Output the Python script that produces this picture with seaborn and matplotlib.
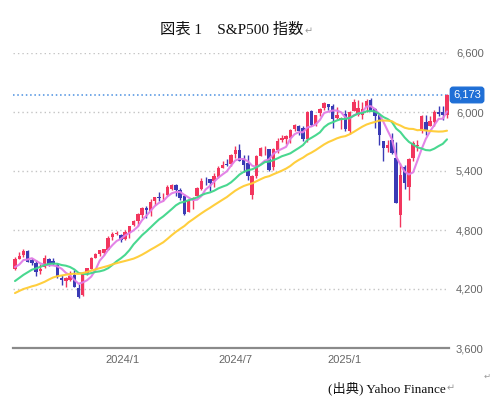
import numpy as np
import pandas as pd
import matplotlib
matplotlib.use("Agg")
import matplotlib.pyplot as plt
import seaborn as sns

# ---- data: weekly S&P 500 candles (week of 2023-07-10 .. week of 2025-06-23) ----
opens = [4398.4, 4505.3, 4543.4, 4584.8, 4491.6, 4464.8, 4380.3, 4426.0, 4510.1, 4480.0,
         4445.4, 4310.6, 4284.5, 4289.0, 4342.4, 4210.4, 4139.4, 4364.3, 4406.7, 4511.7,
         4554.9, 4564.4, 4593.4, 4725.6, 4758.9, 4745.2, 4703.7, 4772.4, 4853.4, 4892.0,
         4957.2, 5026.8, 4989.3, 5093.0, 5130.9, 5111.9, 5154.8, 5219.5, 5258.0, 5211.4,
         5149.7, 4987.3, 5114.1, 5142.4, 5221.1, 5305.4, 5315.9, 5297.2, 5341.2, 5431.1,
         5460.7, 5471.1, 5572.8, 5614.1, 5528.0, 5476.6, 5151.1, 5350.4, 5557.2, 5639.7,
         5623.9, 5442.1, 5615.2, 5711.9, 5726.5, 5737.8, 5829.8, 5857.8, 5833.9, 5725.2,
         6008.9, 5878.5, 5992.3, 6040.1, 6083.0, 6063.8, 5940.3, 5920.7, 5982.8, 5804.1,
         6014.1, 5969.0, 5969.6, 6046.4, 6121.6, 6026.7, 5968.3, 5705.4, 5635.6, 5718.1,
         5527.9, 4953.8, 5442.0, 5232.9, 5529.2, 5655.3, 5807.1, 5902.9, 5854.1, 5896.7,
         6004.6, 6004.0, 5969.7]
highs = [4527.6, 4578.4, 4607.1, 4594.2, 4519.8, 4490.3, 4458.3, 4541.3, 4514.3, 4511.0,
         4466.4, 4338.5, 4317.3, 4385.5, 4393.6, 4255.8, 4374.0, 4418.0, 4520.7, 4568.4,
         4598.5, 4609.2, 4738.6, 4778.0, 4793.3, 4754.3, 4802.4, 4842.1, 4906.7, 4975.3,
         5030.1, 5048.4, 5111.1, 5140.3, 5189.3, 5179.1, 5261.1, 5264.9, 5263.0, 5222.2,
         5168.4, 5114.6, 5139.1, 5239.7, 5325.5, 5341.9, 5315.9, 5375.1, 5447.3, 5505.5,
         5523.6, 5570.3, 5655.6, 5669.7, 5566.2, 5566.2, 5358.4, 5561.0, 5643.2, 5651.6,
         5623.9, 5636.3, 5733.6, 5767.4, 5767.4, 5822.1, 5878.5, 5866.9, 5860.9, 6012.5,
         6017.3, 5972.9, 6044.2, 6100.0, 6085.2, 6085.2, 6049.8, 5949.3, 6021.0, 6015.0,
         6128.2, 6120.9, 6101.3, 6127.5, 6147.4, 6043.7, 5986.1, 5705.4, 5715.3, 5787.0,
         5695.3, 5481.3, 5459.5, 5528.1, 5700.7, 5720.1, 5969.9, 5968.6, 5961.8, 6016.9,
         6059.4, 6059.4, 6187.7]
lows = [4389.9, 4503.1, 4528.6, 4474.6, 4448.0, 4335.3, 4356.3, 4414.9, 4430.0, 4448.0,
        4316.5, 4238.6, 4216.5, 4283.8, 4223.0, 4103.8, 4126.0, 4344.0, 4401.4, 4510.4,
        4537.2, 4546.5, 4593.4, 4698.8, 4751.0, 4682.1, 4699.8, 4714.8, 4844.0, 4845.2,
        4918.1, 4920.3, 4946.0, 5056.8, 5091.9, 5091.0, 5145.0, 5203.4, 5146.1, 5107.9,
        4953.6, 4987.3, 5011.1, 5142.4, 5209.7, 5256.9, 5191.7, 5234.3, 5327.8, 5428.0,
        5447.6, 5448.4, 5528.6, 5497.0, 5390.9, 5305.1, 5119.3, 5330.6, 5550.7, 5560.9,
        5402.6, 5406.9, 5585.9, 5690.5, 5674.0, 5681.1, 5810.7, 5762.4, 5702.6, 5696.5,
        5853.0, 5853.0, 5963.9, 6024.1, 6024.9, 5832.3, 5932.9, 5829.5, 5809.7, 5773.3,
        6014.1, 5962.9, 5923.9, 6003.0, 6008.6, 5837.7, 5666.3, 5504.7, 5597.8, 5572.3,
        5069.9, 4835.0, 5220.8, 5101.6, 5505.7, 5598.4, 5786.1, 5767.4, 5854.1, 5861.4,
        5963.2, 5921.0, 5943.2]
closes = [4505.42, 4536.34, 4582.23, 4478.03, 4464.05, 4369.71, 4405.71, 4515.77, 4457.49, 4450.32,
          4320.06, 4288.05, 4308.50, 4327.78, 4224.16, 4117.37, 4358.34, 4415.24, 4514.02, 4559.34,
          4594.63, 4604.37, 4719.19, 4754.63, 4769.83, 4697.24, 4783.83, 4839.81, 4890.97, 4958.61,
          5026.61, 5005.57, 5088.80, 5137.08, 5123.69, 5117.09, 5234.18, 5254.35, 5204.34, 5123.41,
          4967.23, 5099.96, 5127.79, 5222.68, 5303.27, 5304.72, 5277.51, 5346.99, 5431.60, 5464.62,
          5460.48, 5567.19, 5615.35, 5505.00, 5459.10, 5346.56, 5344.16, 5554.25, 5634.61, 5648.40,
          5408.42, 5626.02, 5702.55, 5738.17, 5751.07, 5815.03, 5864.67, 5808.12, 5728.80, 5995.54,
          5870.62, 5969.34, 6032.38, 6090.27, 6051.09, 5930.85, 5970.84, 5942.47, 5827.04, 5996.66,
          6101.24, 6040.53, 6025.99, 6114.63, 6013.13, 5954.50, 5770.20, 5638.94, 5667.56, 5580.94,
          5074.08, 5363.36, 5282.70, 5525.21, 5686.67, 5659.91, 5958.38, 5802.82, 5911.69, 6000.36,
          5976.97, 5967.84, 6173.07]
# weekly closes before the visible window (needed for the moving averages)
prior_closes = [3972.61, 4070.56, 4136.48, 4090.46, 4079.09, 3970.04, 4045.64, 3861.59, 3916.64,
                3970.99, 4109.31, 4105.02, 4137.64, 4133.52, 4169.48, 4136.25, 4124.08, 4191.98,
                4205.45, 4282.37, 4298.86, 4409.59, 4348.33, 4450.38, 4398.95]
ma_windows = [5, 13, 26]
ma_colors = ["#e27de6", "#3fd68a", "#ffcc33"]

y_ticks = [3600, 4200, 4800, 5400, 6000, 6600]
y_tick_labels = ["3,600", "4,200", "4,800", "5,400", "6,000", "6,600"]
x_tick_weeks = [25.4, 52.1, 77.9]
x_tick_labels = ["2024/1", "2024/7", "2025/1"]
last_label = "6,173"

title = "図表 1　S&P500 指数"
source = "(出典) Yahoo Finance"

# ---- style ----
sns.set_theme(style="white")
plt.rcParams["font.family"] = ["Liberation Sans Narrow", "Liberation Sans", "DejaVu Sans"]
serif_cjk = ["Liberation Serif", "Noto Sans CJK JP", "DejaVu Sans"]

UP = "#f2365e"
DOWN = "#3a3ab5"

fig = plt.figure(figsize=(4.91, 4.13), dpi=100)
ax = fig.add_axes([13 / 491, 1 - 348 / 413, (449 - 13) / 491, (348 - 53) / 413])

o = np.array(opens); h = np.array(highs); l = np.array(lows); c = np.array(closes)
x = np.arange(len(c))
cols = np.where(c >= o, UP, DOWN)

# grid lines (dotted)
for yt in y_ticks[1:]:
    ax.axhline(yt, color="#c4c4c4", linestyle=(0, (1, 2.2)), linewidth=1.0, zorder=0)

# candles
ax.vlines(x, l, h, colors=cols, linewidth=1.0, zorder=2)
body_bottom = np.minimum(o, c)
body_height = np.maximum(np.abs(c - o), 7)
ax.bar(x, body_height, bottom=body_bottom, width=0.8, color=cols, linewidth=0, zorder=2)

# moving averages
full = pd.Series(prior_closes + closes)
n_prior = len(prior_closes)
for w, colr in zip(ma_windows, ma_colors):
    ma = full.rolling(w).mean().iloc[n_prior:].to_numpy()
    sns.lineplot(x=x, y=ma, color=colr, linewidth=1.5, ax=ax, zorder=3, alpha=0.95)

# last price line
ax.axhline(closes[-1], color="#4a8fe0", linestyle=(0, (1, 1.8)), linewidth=1.1, zorder=1)

ax.set_xlim(-0.47, len(c) - 0.53)
ax.set_ylim(3600, 6600)
for s in ["top", "left", "right"]:
    ax.spines[s].set_visible(False)
ax.spines["bottom"].set_color("#8a8a8a")
ax.spines["bottom"].set_linewidth(1.6)

ax.yaxis.tick_right()
ax.set_yticks(y_ticks)
ax.set_yticklabels(y_tick_labels, fontsize=8, color="#666666")
ax.tick_params(axis="y", length=0, pad=5)
ax.set_xticks(x_tick_weeks)
ax.set_xticklabels(x_tick_labels, fontsize=8, color="#666666")
ax.tick_params(axis="x", length=0, pad=5)
ax.set_xlabel("")
ax.set_ylabel("")

# last value badge
ax.annotate(last_label, xy=(1.0, closes[-1]), xycoords=("axes fraction", "data"),
            xytext=(13, 0), textcoords="offset points", ha="center", va="center",
            fontsize=8, color="white",
            bbox=dict(boxstyle="round,pad=0.25", fc="#1f6fd6", ec="#1f6fd6"),
            annotation_clip=False)

# title and source text
t = fig.text(232 / 491, 1 - 30 / 413, title, ha="center", va="center",
             fontsize=11, family=serif_cjk, color="#111111")
s = fig.text(446 / 491, 1 - 388 / 413, source, ha="right", va="center",
             fontsize=9.5, family=serif_cjk, color="#111111")
fig.canvas.draw()
r = fig.canvas.get_renderer()
tb = t.get_window_extent(r)
sb = s.get_window_extent(r)
fig.text((tb.x1 + 1) / fig.bbox.width, 1 - 31 / 413, "↵", ha="left", va="center",
         fontsize=7, family=["DejaVu Sans"], color="#9a9a9a")
fig.text((sb.x1 + 1) / fig.bbox.width, 1 - 388 / 413, "↵", ha="left", va="center",
         fontsize=7, family=["DejaVu Sans"], color="#9a9a9a")
fig.text(484 / 491, 1 - 376 / 413, "↵", ha="left", va="center",
         fontsize=6, family=["DejaVu Sans"], color="#9a9a9a")

fig.savefig("out.png", dpi=100, facecolor="white")
